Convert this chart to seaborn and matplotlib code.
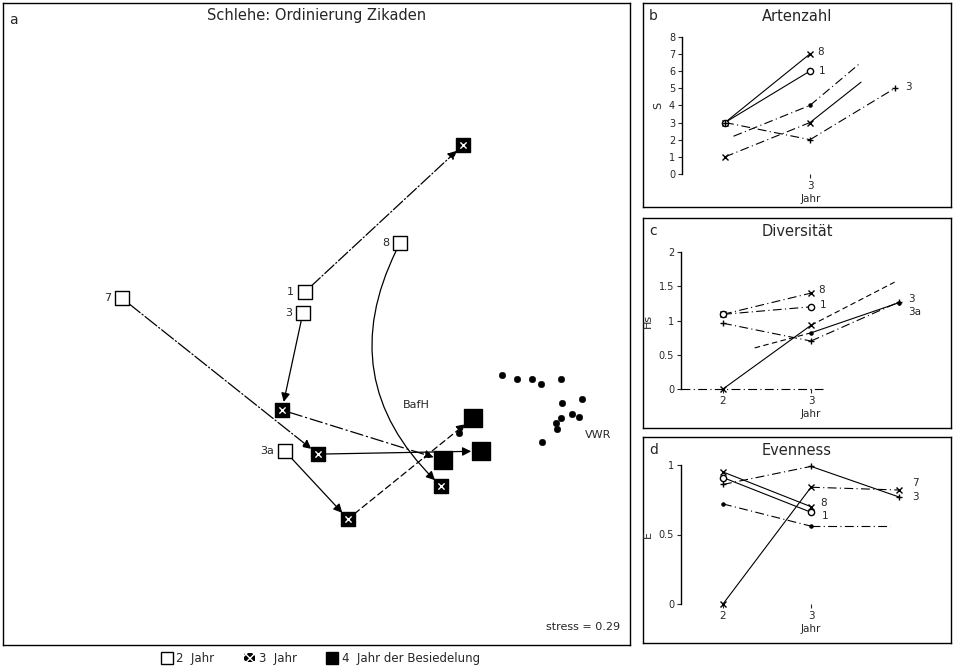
import numpy as np
import pandas as pd
import matplotlib
matplotlib.use('Agg')
import matplotlib.pyplot as plt
import matplotlib.patches as mpatches
from matplotlib.lines import Line2D
import seaborn as sns

sns.set_style('white')
plt.rcParams['font.family'] = ['DejaVu Sans']

# --- Ordination (NMDS) scores, Zikaden auf Schlehe ---
sites = ['1', '3', '7', '3a', '8']
nmds1_j2 = [-0.055, -0.065, -0.931, -0.151, 0.400]
nmds2_j2 = [0.150, 0.051, 0.121, -0.594, 0.378]
nmds1_j3 = [0.701, -0.165, 0.007, 0.151, 0.596]
nmds2_j3 = [0.836, -0.402, -0.608, -0.911, -0.757]
sites_j4 = ['3', '7', '3a']
nmds1_j4 = [0.605, 0.787, 0.749]
nmds2_j4 = [-0.636, -0.594, -0.439]
ref_nmds1 = [0.888, 0.959, 1.031, 1.074, 1.170, 1.175, 1.271, 1.170, 1.146,
             1.223, 1.256, 1.151, 1.079, 0.682]
ref_nmds2 = [-0.238, -0.257, -0.257, -0.280, -0.257, -0.369, -0.351, -0.439,
             -0.463, -0.421, -0.435, -0.491, -0.551, -0.509]

# --- Artenzahl (S) ---
b_sites = ['8', '1', '3', '3a', '7']
b_jahr = [[2, 3], [2, 3], [2, 3, 4], [2, 3, 3.6], [2.1, 3, 3.6]]
b_S = [[3, 7], [3, 6], [3, 2, 5], [1, 3, 5.35], [2.2, 4, 6.5]]
# --- Diversitaet (Hs) ---
c_sites = ['8', '1', '3', '3a', '7']
c_jahr = [[2, 3], [2, 3], [2, 3, 4], [2, 3, 3.95], [2.36, 3, 4]]
c_H = [[1.09, 1.40], [1.09, 1.20], [0.96, 0.70, 1.27], [0, 0.93, 1.56], [0.6, 0.82, 1.26]]
# --- Evenness (E) ---
d_sites = ['8', '1', '3', '3a', '7']
d_jahr = [[2, 3], [2, 3], [2, 3, 4], [2, 3, 4], [2, 3, 3.9]]
d_E = [[0.95, 0.70], [0.91, 0.66], [0.86, 0.99, 0.77], [0, 0.84, 0.82], [0.72, 0.56, 0.56]]

DD = (0, (8, 3, 1, 3))   # strich-punkt
DA = (0, (5, 3))         # gestrichelt
b_ls = {'8': ['-'], '1': ['-'], '3': [DD, DD], '3a': [DD, '-'], '7': [DD, DD]}
c_ls = {'8': [DD], '1': [DD], '3': [DD, DD], '3a': ['-', DA], '7': [DA, '-']}
d_ls = {'8': ['-'], '1': ['-'], '3': [DD, '-'], '3a': ['-', DD], '7': [DD, DD]}
mk_styles = {'8': 'x', '1': 'o', '3': '+', '3a': 'x', '7': '.'}

fig = plt.figure(figsize=(9.54, 6.7), dpi=100)

# ---------------- panel a ----------------
ax = fig.add_axes([0.0031, 0.0373, 0.6572, 0.9582])
ax.set_xlim(-1.5, 1.5)
ax.set_ylim(-1.5, 1.5)
ax.set_xticks([])
ax.set_yticks([])
for s in ax.spines.values():
    s.set_color('black')
    s.set_linewidth(1.0)

df2 = pd.DataFrame({'site': sites, 'x': nmds1_j2, 'y': nmds2_j2})
df3 = pd.DataFrame({'site': sites, 'x': nmds1_j3, 'y': nmds2_j3})
df4 = pd.DataFrame({'site': sites_j4, 'x': nmds1_j4, 'y': nmds2_j4})
dref = pd.DataFrame({'x': ref_nmds1, 'y': ref_nmds2})

step23 = {'1': (0, (10, 2, 1, 2)), '3': '-', '7': (0, (12, 2, 1, 2)), '3a': '-', '8': '-'}
step34 = {'3': (0, (10, 3, 1, 3)), '7': '-', '3a': (0, (5, 3))}

for i, s in enumerate(sites):
    rad = 0.38 if s == '8' else 0.0
    ax.annotate('', xy=(nmds1_j3[i], nmds2_j3[i]), xytext=(nmds1_j2[i], nmds2_j2[i]),
                arrowprops=dict(arrowstyle='-|>', color='black', lw=0.9,
                                linestyle=step23[s], mutation_scale=13,
                                shrinkA=6, shrinkB=6,
                                connectionstyle='arc3,rad=%s' % rad), zorder=2)
for s in sites_j4:
    i = sites.index(s)
    j = sites_j4.index(s)
    ax.annotate('', xy=(nmds1_j4[j], nmds2_j4[j]), xytext=(nmds1_j3[i], nmds2_j3[i]),
                arrowprops=dict(arrowstyle='-|>', color='black', lw=0.9,
                                linestyle=step34[s], mutation_scale=13,
                                shrinkA=6, shrinkB=7), zorder=2)

sns.scatterplot(data=dref, x='x', y='y', ax=ax, color='black', s=22, marker='o',
                edgecolor='black', zorder=3, legend=False)
sns.scatterplot(data=df2, x='x', y='y', ax=ax, marker='s', s=110, color='white',
                edgecolor='black', linewidth=1.0, zorder=4, legend=False)
sns.scatterplot(data=df3, x='x', y='y', ax=ax, marker='s', s=100, color='black',
                edgecolor='black', linewidth=1.0, zorder=4, legend=False)
ax.scatter(df3['x'], df3['y'], marker='x', s=20, color='white', linewidths=1.0, zorder=5)
sns.scatterplot(data=df4, x='x', y='y', ax=ax, marker='s', s=150, color='black',
                edgecolor='black', zorder=4, legend=False)
ax.set_xlabel('')
ax.set_ylabel('')

for i, s in enumerate(sites):
    ax.annotate(s, (nmds1_j2[i], nmds2_j2[i]), xytext=(-8, 0), textcoords='offset points',
                ha='right', va='center', fontsize=8)
ax.text(0.476, -0.379, 'BafH', ha='center', va='center', fontsize=8)
ax.text(1.347, -0.519, 'VWR', ha='center', va='center', fontsize=8)
ax.text(0.985, 0.02, 'stress = 0.29', transform=ax.transAxes, ha='right', va='bottom',
        fontsize=8)
ax.text(0.01, 0.985, 'a', transform=ax.transAxes, ha='left', va='top', fontsize=10)
ax.text(0.5, 0.993, 'Schlehe: Ordinierung Zikaden', transform=ax.transAxes,
        ha='center', va='top', fontsize=10.5)


# ---------------- panels b, c, d ----------------
def side_panel(frame_rect, inner_rect, letter, title, xlim, ylim, yticks, yticklabels,
               xticks, ylab, sites_, jahr_, vals_, seg_ls, labels_):
    fr = fig.add_axes(frame_rect)
    fr.set_xticks([])
    fr.set_yticks([])
    for s in fr.spines.values():
        s.set_color('black')
        s.set_linewidth(1.0)
    fr.text(0.02, 0.97, letter, transform=fr.transAxes, ha='left', va='top', fontsize=10)
    fr.text(0.5, 0.97, title, transform=fr.transAxes, ha='center', va='top', fontsize=10.5)

    ia = fig.add_axes(inner_rect)
    ia.patch.set_alpha(0)
    for k in ['top', 'right', 'bottom']:
        ia.spines[k].set_visible(False)
    ia.spines['left'].set_color('black')
    ia.spines['left'].set_linewidth(1.0)
    ia.set_xlim(*xlim)
    ia.set_ylim(*ylim)
    for site, xs, ys in zip(sites_, jahr_, vals_):
        for k in range(len(xs) - 1):
            sns.lineplot(x=xs[k:k + 2], y=ys[k:k + 2], ax=ia, color='black', lw=0.8,
                         linestyle=seg_ls[site][k], sort=False, estimator=None)
        mx = [x for x in xs if float(x).is_integer()]
        my = [y for x, y in zip(xs, ys) if float(x).is_integer()]
        ia.plot(mx, my, ls='', marker=mk_styles[site], markersize=4.5,
                markerfacecolor='white' if site == '1' else 'black',
                markeredgecolor='black', zorder=3, clip_on=False)
    for txt, (lx, ly) in labels_:
        ia.text(lx, ly, txt, fontsize=7.5, ha='left', va='center')
    ia.set_yticks(yticks)
    ia.set_yticklabels(yticklabels, fontsize=7)
    ia.set_xticks(xticks)
    ia.set_xticklabels([str(t) for t in xticks], fontsize=7.5)
    ia.tick_params(axis='y', length=3, width=0.8, left=True, pad=2)
    ia.tick_params(axis='x', length=3, width=0.8, bottom=True, pad=2)
    ia.set_xlabel('Jahr', fontsize=7.5, labelpad=2)
    ia.set_ylabel(ylab, fontsize=8, labelpad=4)
    return ia


W, H = 954.0, 670.0

side_panel([643 / W, 1 - 207 / H, 308 / W, 204 / H],
           [682 / W, 1 - 174 / H, 258 / W, 137.3 / H], 'b', 'Artenzahl',
           (1.494, 4.529), (0, 8), list(range(9)), [str(v) for v in range(9)], [3], 'S',
           b_sites, b_jahr, b_S, b_ls,
           [('8', (3.08, 7.1)), ('1', (3.1, 6.0)), ('3', (4.12, 5.05))])

ic = side_panel([643 / W, 1 - 428 / H, 308 / W, 210 / H],
                [681 / W, 1 - 389 / H, 259 / W, 137 / H], 'c', 'Diversität',
                (1.523, 4.466), (0, 2), [0, 0.5, 1, 1.5, 2],
                ['0', '0.5', '1', '1.5', '2'], [2, 3], 'Hs',
                c_sites, c_jahr, c_H, c_ls,
                [('8', (3.08, 1.44)), ('1', (3.1, 1.22)), ('3', (4.1, 1.32)),
                 ('3a', (4.1, 1.12))])
ic.axhline(0, xmin=0, xmax=0.55, color='black', lw=0.8, linestyle=DD, clip_on=False)

side_panel([643 / W, 1 - 643 / H, 308 / W, 206 / H],
           [681 / W, 1 - 604 / H, 259 / W, 139 / H], 'd', 'Evenness',
           (1.523, 4.466), (0, 1), [0, 0.5, 1], ['0', '0.5', '1'], [2, 3], 'E',
           d_sites, d_jahr, d_E, d_ls,
           [('8', (3.1, 0.73)), ('1', (3.12, 0.63)), ('7', (4.15, 0.87)),
            ('3', (4.15, 0.77))])

# ---------------- legend ----------------
handles = [Line2D([], [], marker='s', ls='', markersize=9, markerfacecolor='white',
                  markeredgecolor='black'),
           mpatches.Patch(facecolor='black', edgecolor='white', hatch='xxxx', lw=0),
           Line2D([], [], marker='s', ls='', markersize=9, color='black')]
fig.legend(handles, ['2  Jahr', '3  Jahr', '4  Jahr der Besiedelung'], loc='lower left',
           bbox_to_anchor=(150 / W, -0.008), ncol=3, frameon=False, fontsize=8.5,
           handlelength=1.0, handletextpad=0.3, columnspacing=2.5)

fig.savefig('out.png', dpi=100)
